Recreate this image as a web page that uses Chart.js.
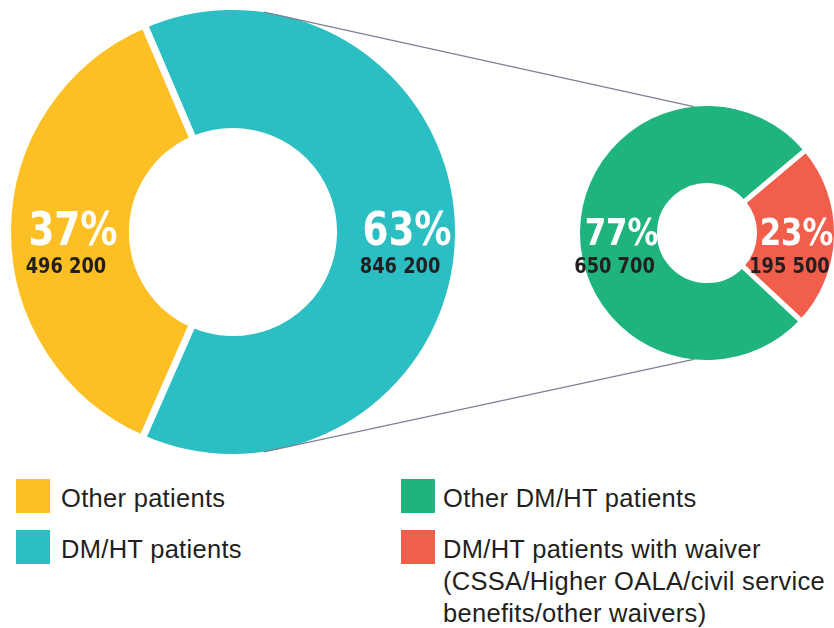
<!DOCTYPE html>
<html>
<head>
<meta charset="utf-8">
<script src="https://cdn.jsdelivr.net/npm/chart.js@4.4.1/dist/chart.umd.min.js"></script>
<style>
  html, body { margin: 0; padding: 0; background: #ffffff; }
  body { width: 834px; height: 628px; position: relative; overflow: hidden; }
  #lines { position: absolute; left: 0; top: 0; z-index: 2; pointer-events: none; }
  #bigWrap { position: absolute; left: 4px; top: 3px; width: 458px; height: 458px; z-index: 1; }
  #smallWrap { position: absolute; left: 575px; top: 101px; width: 264px; height: 264px; z-index: 1; }
  .legend { position: absolute; font-family: "Liberation Sans", Arial, sans-serif; font-size: 25.5px; color: #231f20; line-height: 32px; letter-spacing: 0.3px; white-space: nowrap; }
  .sw { position: absolute; width: 34px; height: 34px; }
</style>
</head>
<body>
<canvas id="lines" width="834" height="628"></canvas>
<div id="bigWrap"><canvas id="big"></canvas></div>
<div id="smallWrap"><canvas id="small"></canvas></div>
<div id="legend"></div>
<script>
// ---- data ----
const bigLabels = ["DM/HT patients", "Other patients"];
const bigValues = [846200, 496200];
const bigColors = ["#2bbfc4", "#fcc024"];

const smallLabels = ["DM/HT patients with waiver", "Other DM/HT patients"];
const smallValues = [195500, 650700];
const smallColors = ["#f25e4c", "#1fb47d"];

const legendLeft = [
  { text: "Other patients", color: "#fcc024" },
  { text: "DM/HT patients", color: "#2bbfc4" }
];
const legendRight = [
  { text: "Other DM/HT patients", color: "#1fb47d" },
  { text: "DM/HT patients with waiver<br>(CSSA/Higher OALA/civil service<br>benefits/other waivers)", color: "#f25e4c" }
];

function fmt(v) {
  return String(v).replace(/\B(?=(\d{3})+(?!\d))/g, " ");
}

const labelPlugin = {
  id: "sliceLabels",
  afterDatasetsDraw(chart, args, opts) {
    const ctx = chart.ctx;
    const meta = chart.getDatasetMeta(0);
    const data = chart.data.datasets[0].data;
    const total = data.reduce((a, b) => a + b, 0);
    meta.data.forEach((arc, i) => {
      const p = arc.tooltipPosition();
      const pct = Math.round(data[i] / total * 100) + "%";
      const dx = (opts.dx && opts.dx[i]) || 0;
      ctx.save();
      ctx.textAlign = "center";
      ctx.textBaseline = "alphabetic";
      ctx.translate(p.x + dx, arc.y);
      ctx.scale(opts.squeeze, 1);
      ctx.fillStyle = "#ffffff";
      ctx.font = "bold " + opts.pctSize + "px 'DejaVu Sans Condensed', 'DejaVu Sans', sans-serif";
      ctx.fillText(pct, 3 / opts.squeeze, opts.pctBase);
      ctx.fillStyle = "#231f20";
      ctx.font = "bold " + opts.valSize + "px 'DejaVu Sans Condensed', 'DejaVu Sans', sans-serif";
      ctx.fillText(fmt(data[i]), -4 / opts.squeeze, opts.valBase);
      ctx.restore();
    });
  }
};

function makeChart(id, labels, values, colors, rotation, cutout, bw, lblOpts) {
  return new Chart(document.getElementById(id), {
    type: "doughnut",
    data: {
      labels: labels,
      datasets: [{
        data: values,
        backgroundColor: colors,
        borderColor: "#ffffff",
        borderWidth: bw,
        hoverOffset: 0
      }]
    },
    options: {
      responsive: true,
      maintainAspectRatio: false,
      animation: false,
      rotation: rotation,
      cutout: cutout,
      layout: { padding: 0 },
      plugins: {
        legend: { display: false },
        tooltip: { enabled: false },
        sliceLabels: lblOpts
      },
      events: []
    },
    plugins: [labelPlugin]
  });
}

const big = makeChart("big", bigLabels, bigValues, bigColors, -23.2, "44.6%", 7,
  { pctSize: 46, valSize: 22, pctBase: 13, valBase: 41, squeeze: 0.9, dx: [8, 0] });
const small = makeChart("small", smallLabels, smallValues, smallColors, 49.9, "36.7%", 5,
  { pctSize: 38, valSize: 22, pctBase: 12, valBase: 40, squeeze: 0.9, dx: [-2, 0] });

// ---- connector lines computed from the drawn arcs ----
function drawConnectors() {
  const c = document.getElementById("lines").getContext("2d");
  const bRect = document.getElementById("bigWrap").getBoundingClientRect();
  const sRect = document.getElementById("smallWrap").getBoundingClientRect();
  const ba = big.getDatasetMeta(0).data[0];
  const sa = small.getDatasetMeta(0).data[0];
  const bx = bRect.left + ba.x, by = bRect.top + ba.y, br = ba.outerRadius - 3.5;
  const sx = sRect.left + sa.x, sy = sRect.top + sa.y, sr = sa.outerRadius - 2.5;
  const pt = (cx, cy, r, deg) => [cx + r * Math.sin(deg * Math.PI / 180), cy - r * Math.cos(deg * Math.PI / 180)];
  c.strokeStyle = "#7c8294";
  c.lineWidth = 1.3;
  [[8, -6], [172, 186]].forEach(([a1, a2]) => {
    const p1 = pt(bx, by, br, a1), p2 = pt(sx, sy, sr, a2);
    c.beginPath();
    c.moveTo(p1[0], p1[1]);
    c.lineTo(p2[0], p2[1]);
    c.stroke();
  });
}
drawConnectors();

// ---- legend ----
const lg = document.getElementById("legend");
function addLegend(items, sqLeft, txtLeft) {
  items.forEach((it, i) => {
    const top = 479 + i * 51;
    const sq = document.createElement("div");
    sq.className = "sw";
    sq.style.left = sqLeft + "px";
    sq.style.top = top + "px";
    sq.style.background = it.color;
    lg.appendChild(sq);
    const t = document.createElement("div");
    t.className = "legend";
    t.style.left = txtLeft + "px";
    t.style.top = (top + 3) + "px";
    t.innerHTML = it.text;
    lg.appendChild(t);
  });
}
addLegend(legendLeft, 16, 61);
addLegend(legendRight, 401, 443);
</script>
</body>
</html>
